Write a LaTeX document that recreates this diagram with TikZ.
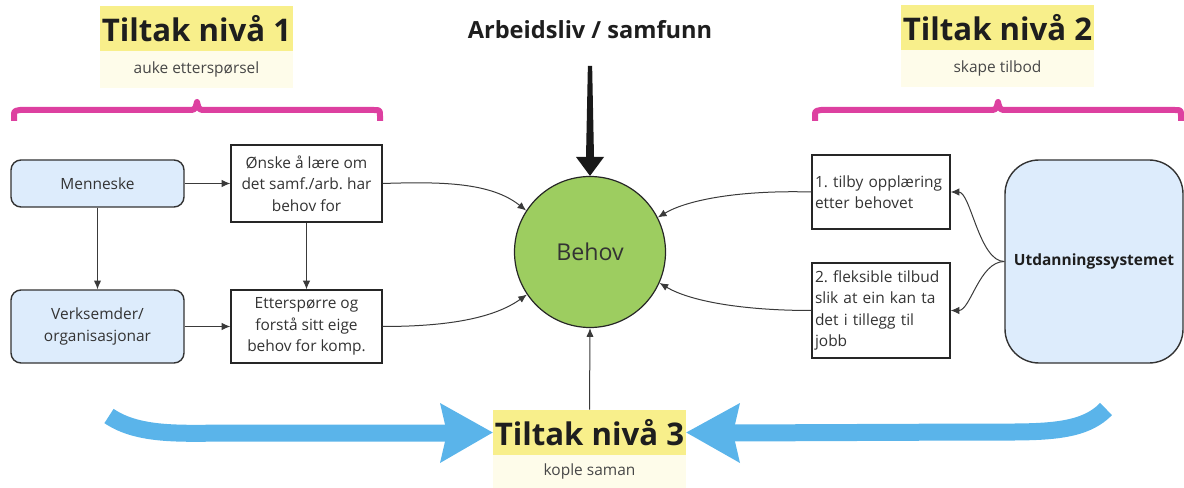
\documentclass[tikz,border=0pt]{standalone}
\usepackage{fontspec}
\setmainfont{Open Sans}
\usetikzlibrary{arrows.meta}
\frenchspacing
\newdimen\pxu \pxu=0.75pt
\definecolor{tyel}{HTML}{F8EF8B}
\definecolor{tlight}{HTML}{FEFCEA}
\definecolor{brmag}{HTML}{DD40A0}
\definecolor{lblue}{HTML}{DDECFC}
\definecolor{bgreen}{HTML}{9DCD60}
\definecolor{barrow}{HTML}{5AB4EA}
\definecolor{txt}{HTML}{333333}
\definecolor{ttl}{HTML}{1E1E1E}
\definecolor{conn}{HTML}{3A3A3A}
\tikzset{
  bodyfont/.style={font=\fontsize{11.6}{16.1}\selectfont, text=txt},
  titlebox/.style={fill=tyel, minimum width=193\pxu, minimum height=45\pxu, inner sep=0pt,
     font=\bfseries\fontsize{23.4}{28}\selectfont, text=ttl},
  subbox/.style={fill=tlight, minimum width=193\pxu, inner sep=0pt, bodyfont, text=txt!90!white},
  roundbox/.style={draw=txt, line width=1.4\pxu, fill=lblue, rounded corners=10\pxu,
     minimum width=173\pxu, inner sep=0pt, align=center, bodyfont},
  sqbox/.style={draw=black!85, line width=1.2\pxu, fill=white, minimum width=151\pxu,
     inner sep=0pt, align=center, bodyfont},
  leftbox/.style={draw=black!85, line width=1.2\pxu, fill=white, minimum width=138\pxu,
     text width=132\pxu, inner xsep=3\pxu, inner ysep=0pt, align=left, bodyfont},
  conarrow/.style={draw=conn, line width=1\pxu, -{Latex[length=6.5pt,width=5.5pt]}},
  brace/.style={draw=brmag, line width=6\pxu, line join=round, line cap=butt},
  bluearrow/.style={draw=barrow, line width=17\pxu, line cap=butt},
}
\begin{document}
\begin{tikzpicture}[x=0.75pt,y=-0.75pt]
\useasboundingbox (0,0) rectangle (1184,488);

% titles
\node[titlebox] (t1) at (196.5,28.5) {Tiltak nivå 1};
\node[subbox, minimum height=37\pxu] (s1) at (196.5,69.5) {auke etterspørsel};
\node[titlebox] (t2) at (997.5,27.5) {Tiltak nivå 2};
\node[subbox, minimum height=37\pxu] (s2) at (997.5,68.5) {skape tilbod};
\node[titlebox] (t3) at (589.5,432.5) {Tiltak nivå 3};
\node[subbox, minimum height=33\pxu] (s3) at (589.5,471.5) {kople saman};

\node[font=\bfseries\fontsize{17.7}{21}\selectfont, text=ttl] (arb) at (590,30) {Arbeidsliv / samfunn};

% braces
\draw[brace] (14,121) -- (14,116) .. controls (14,111) .. (20,110) -- (188,110)
   .. controls (195,110) .. (197,102) .. controls (199,110) .. (206,110) -- (374,110)
   .. controls (380,110) .. (380,116) -- (380,121);
\draw[brace] (815,121) -- (815,116) .. controls (815,111) .. (821,110) -- (989,110)
   .. controls (996,110) .. (998,102) .. controls (1000,110) .. (1007,110) -- (1175,110)
   .. controls (1181,110) .. (1181,116) -- (1181,121);

% nodes
\node[roundbox, minimum height=47\pxu] (men) at (97.5,183.5) {Menneske};
\node[roundbox, minimum height=73\pxu] (ver) at (97.5,326.5) {Verksemder/\\organisasjonar};
\node[sqbox, minimum height=77\pxu] (onske) at (306.5,183.5) {Ønske å lære om\\det samf./arb. har\\behov for};
\node[sqbox, minimum height=73\pxu] (etter) at (306.5,326.5) {Etterspørre og\\forstå sitt eige\\behov for komp.};
\node[circle, draw=black!85, line width=1.2\pxu, fill=bgreen, minimum size=151\pxu, inner sep=0pt,
      font=\fontsize{17.4}{20}\selectfont, text=black!80] (behov) at (590,252) {Behov};
\node[leftbox, minimum height=74\pxu] (b1) at (881,192) {1. tilby opplæring\\etter behovet};
\node[leftbox, minimum height=95\pxu] (b2) at (881,310.5) {2. fleksible tilbud\\slik at ein kan ta\\det i tillegg til\\jobb};
\node[draw=txt, line width=1.4\pxu, fill=lblue, rounded corners=34\pxu, minimum width=178\pxu,
      minimum height=203\pxu, inner sep=0pt, font=\bfseries\fontsize{11.6}{16}\selectfont, text=ttl]
      (utd) at (1094,261.5) {Utdanningssystemet};

% big black arrow
\coordinate (btop) at (590,66);
\fill[black!90] ([xshift=-1.6pt]btop) -- ([xshift=1.6pt]btop) -- (594,157) -- (604,157)
   -- (behov.north) -- (576,157) -- (586,157) -- cycle;

% connectors left
\draw[conarrow] (men.east) -- (onske.west);
\draw[conarrow] (ver.east) -- (etter.west);
\draw[conarrow] (men.south) -- (ver.north);
\draw[conarrow] (onske.south) -- (etter.north);
\draw[conarrow] (onske.east) .. controls +(60,-2) and +(-35,-28) .. (behov.147);
\draw[conarrow] (etter.east) .. controls +(60,0) and +(-35,25) .. (behov.214);
% connectors right
\draw[conarrow] (b1.west) .. controls +(-70,-2) and +(30,-18) .. (behov.27);
\draw[conarrow] (b2.west) .. controls +(-70,0) and +(30,18) .. (behov.-24);
\draw[conarrow] (utd.west) .. controls +(-25,0) and +(20,0) .. (b1.east);
\draw[conarrow] (utd.west) .. controls +(-25,0) and +(20,0) .. (b2.east);
\draw[conarrow] (t3.north) -- (behov.south);

% blue arrows
\coordinate (ltail) at (109,416);
\coordinate (rtail) at (1106,409);
\draw[bluearrow] (ltail) .. controls (140,437) and (185,433) .. (235,433) -- (447,433);
\fill[barrow] (t3.west) -- (440,403) -- (447,433) -- (440,463) -- cycle;
\draw[bluearrow] (rtail) .. controls (1082,434) and (1040,432) .. (980,432) -- (733,433);
\fill[barrow] (t3.east) -- (740,403) -- (733,433) -- (740,463) -- cycle;
\end{tikzpicture}
\end{document}
